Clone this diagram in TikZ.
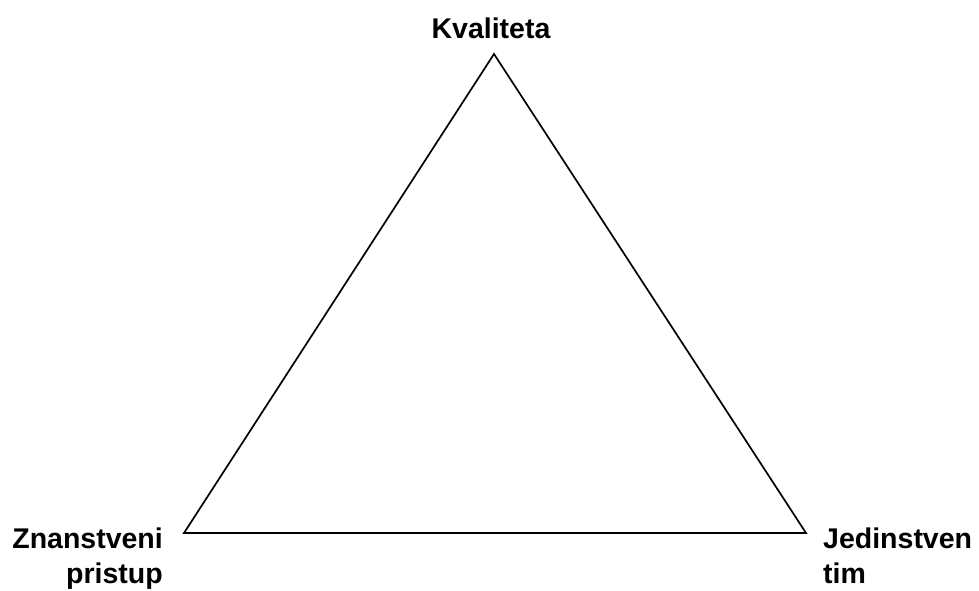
\documentclass[tikz,border=0pt]{standalone}
\usepackage{fontspec}
\setmainfont{Liberation Sans}
\begin{document}
\begin{tikzpicture}[x=1pt,y=1pt,
  lbl/.style={font=\fontsize{28.5}{34.5}\selectfont\bfseries, inner sep=0pt},
  edge/.style={line width=1.7pt, line join=miter}]
\useasboundingbox (0,0) rectangle (979,590);
\coordinate (top) at (494,536);
\coordinate (bl) at (184,57);
\coordinate (br) at (806,57);
\draw[edge] (top) -- (bl) -- (br) -- cycle;
\node[lbl, anchor=base] (kval) at (491,551) {Kvaliteta};
\node[lbl, anchor=base east, align=right] (znan) at (163,7) {Znanstveni\\pristup};
\node[lbl, anchor=base west, align=left] (jed) at (823,7) {Jedinstven\\tim};
\end{tikzpicture}
\end{document}
